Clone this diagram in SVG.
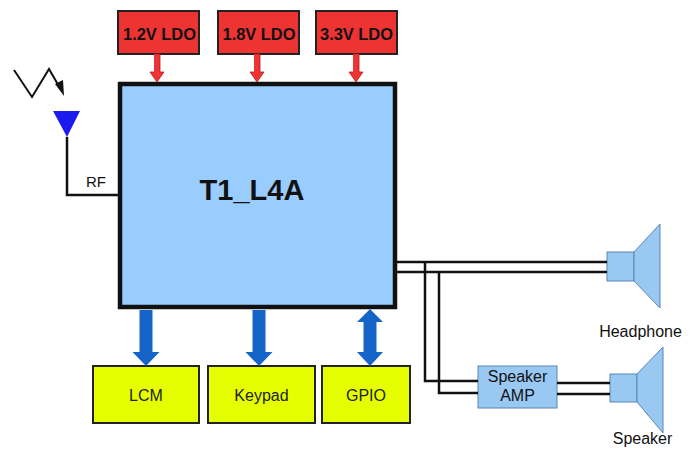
<svg xmlns="http://www.w3.org/2000/svg" width="700" height="449" viewBox="0 0 700 449">
<defs>
<style>
.t{font-family:"Liberation Sans",Arial,sans-serif;fill:#111}
.ldo{fill:#ee3333;stroke:#222;stroke-width:2}
.ldot{font-family:"Liberation Sans",Arial,sans-serif;font-weight:bold;font-size:17px;fill:#111;text-anchor:middle}
.ra{fill:#ee3333;stroke:#b02020;stroke-width:0.8}
.ba{fill:#1565c8}
.yb{fill:#e6ff00;stroke:#222;stroke-width:2}
.yt{font-family:"Liberation Sans",Arial,sans-serif;font-size:16px;fill:#222;text-anchor:middle}
.w{fill:none;stroke:#111;stroke-width:2.5}
.sp{fill:#99c8f2;stroke:#5a85b5;stroke-width:1}
</style>
</defs>
<rect width="700" height="449" fill="#ffffff"/>
<g id="ldo12"><rect class="ldo" x="118" y="11" width="81" height="43"/><text class="ldot" x="159.5" y="40" textLength="73" lengthAdjust="spacingAndGlyphs">1.2V LDO</text></g>
<g id="ldo18"><rect class="ldo" x="218" y="11" width="81" height="43"/><text class="ldot" x="259" y="40" textLength="73" lengthAdjust="spacingAndGlyphs">1.8V LDO</text></g>
<g id="ldo33"><rect class="ldo" x="316" y="11" width="81" height="43"/><text class="ldot" x="356.5" y="40" textLength="73" lengthAdjust="spacingAndGlyphs">3.3V LDO</text></g>
<g id="main"><rect x="120" y="84" width="275" height="223" fill="#99ccff" stroke="#111" stroke-width="4.5"/><text class="t" x="252" y="200" font-size="29" font-weight="bold" text-anchor="middle">T1_L4A</text></g>
<g id="antenna">
<polyline points="14,70 32,97 49,69 60,88" fill="none" stroke="#111" stroke-width="2"/>
<polygon points="55,84 64,96 63,80" fill="#111"/>
<polygon points="53,111 80,111 67,137" fill="#1a1aee"/>
<text class="t" x="86" y="187" font-size="15">RF</text>
</g>
<g id="lcm"><rect class="yb" x="93" y="366" width="106" height="57"/><text class="yt" x="146" y="401">LCM</text></g>
<g id="keypad"><rect class="yb" x="208" y="366" width="107" height="57"/><text class="yt" x="261.5" y="401">Keypad</text></g>
<g id="gpio"><rect class="yb" x="322" y="366" width="88" height="57"/><text class="yt" x="366" y="401">GPIO</text></g>
<g id="amp"><rect class="sp" x="478" y="366" width="79" height="42"/><text class="t" x="517.5" y="382" font-size="16" text-anchor="middle">Speaker</text><text class="t" x="517.5" y="401" font-size="16" text-anchor="middle">AMP</text></g>
<g id="headphone"><rect class="sp" x="607" y="252" width="27" height="29"/><polygon class="sp" points="634,252 660,224 660,308 634,281"/><text class="t" x="640.5" y="337" font-size="16" text-anchor="middle">Headphone</text></g>
<g id="speaker"><rect class="sp" x="610" y="374" width="27" height="28"/><polygon class="sp" points="637,374 663,347 663,433 637,402"/><text class="t" x="642.5" y="444" font-size="16" text-anchor="middle">Speaker</text></g>
<g id="connectors">
<polyline class="ra" points="154,54 160,54 160,72 164,72 157,82 150,72 154,72"/>
<polyline class="ra" points="254,54 260,54 260,72 264,72 257,82 250,72 254,72"/>
<polyline class="ra" points="353,54 359,54 359,72 363,72 356,82 349,72 353,72"/>
<polygon class="ba" points="139.5,310 152.5,310 152.5,352 159.5,352 146,366 132.5,352 139.5,352"/>
<polygon class="ba" points="252.5,310 265.5,310 265.5,352 272.5,352 259,366 245.5,352 252.5,352"/>
<polygon class="ba" points="370,309 383,322 376.5,322 376.5,352 383,352 370,366 357,352 363.5,352 363.5,322 357,322"/>
<polyline class="w" points="67,137 67,195 118,195" stroke-width="2"/>
<line class="w" x1="397" y1="262" x2="607" y2="262"/>
<line class="w" x1="397" y1="272" x2="607" y2="272"/>
<polyline class="w" points="425,262 425,381 478,381"/>
<polyline class="w" points="439,272 439,393 478,393"/>
<line class="w" x1="557" y1="383" x2="610" y2="383"/>
<line class="w" x1="557" y1="394" x2="610" y2="394"/>
</g>
</svg>
